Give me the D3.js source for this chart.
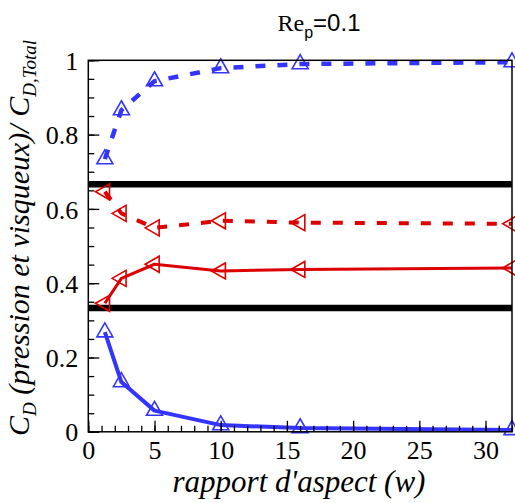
<!DOCTYPE html>
<html><head><meta charset="utf-8">
<script src="https://cdn.jsdelivr.net/npm/d3@7"></script>
<style>
#c text, #c tspan { font-family: "Liberation Serif", "Times New Roman", serif !important; }
#c .ttl { font-family: "Liberation Sans", Arial, sans-serif !important; }
#c .ttl .rs { font-family: "Liberation Serif", "Times New Roman", serif !important; }
#c .tk { font-size: 26px !important; }
</style>
</head><body style="margin:0;background:#fff">
<svg id="c" width="515" height="503" style="display:block"></svg>
<script>
const w = [1.25, 2.5, 5, 10, 16, 32];
const blueDashed = [0.734, 0.866, 0.944, 0.979, 0.990, 0.995];
const blueSolid  = [0.268, 0.134, 0.057, 0.018, 0.010, 0.005];
const redDashed  = [0.646, 0.588, 0.549, 0.568, 0.563, 0.560];
const redSolid   = [0.346, 0.413, 0.451, 0.433, 0.437, 0.441];
const refLines = [1/3, 2/3];
const xTicks = [0, 5, 10, 15, 20, 25, 30];
const yTicks = [0, 0.2, 0.4, 0.6, 0.8, 1];

const svg = d3.select("#c");
const L = 88.3, R = 512, T = 60.3, B = 431.8;
const x = d3.scaleLinear().domain([0, 32]).range([L, R]);
const y = d3.scaleLinear().domain([0, 1]).range([B, T]);
const blue = "#3434ff", red = "#dc0000";
const SERIF = "'Liberation Serif', 'Times New Roman', serif";
const SANS = "'Liberation Sans', Arial, sans-serif";

svg.append("clipPath").attr("id","pc").append("rect")
  .attr("x", L).attr("y", T).attr("width", R-L).attr("height", B-T);
const g = svg.append("g").attr("clip-path","url(#pc)");

refLines.forEach(v => g.append("line").attr("x1", L).attr("x2", R)
  .attr("y1", y(v)).attr("y2", y(v)).attr("stroke","#000").attr("stroke-width",6.5));

const line = d3.line().x((d,i)=>x(w[i])).y(d=>y(d));
function series(vals, color, width, dash){
  g.append("path").datum(vals).attr("d", line).attr("fill","none")
   .attr("stroke", color).attr("stroke-width", width)
   .attr("stroke-dasharray", dash || null).attr("stroke-linejoin","round");
}
series(blueDashed, blue, 4.5, "10,12");
series(blueSolid, blue, 4, null);
series(redDashed, red, 4, "10,12");
series(redSolid, red, 3, null);

const mg = svg.append("g");
function upTri(vals, color){
  const h = 14, hw = 8;
  vals.forEach((v,i)=>{
    const cx = x(w[i]), cy = y(v);
    mg.append("path").attr("d", `M${cx},${cy-2*h/3}L${cx+hw},${cy+h/3}L${cx-hw},${cy+h/3}Z`)
      .attr("fill","none").attr("stroke",color).attr("stroke-width",1.6);
  });
}
function leftTri(vals, color){
  const h = 14, hw = 8;
  vals.forEach((v,i)=>{
    const cx = x(w[i]), cy = y(v);
    mg.append("path").attr("d", `M${cx-2*h/3},${cy}L${cx+h/3},${cy-hw}L${cx+h/3},${cy+hw}Z`)
      .attr("fill","none").attr("stroke",color).attr("stroke-width",1.6);
  });
}
upTri(blueDashed, blue);
upTri(blueSolid, blue);
leftTri(redDashed, red);
leftTri(redSolid, red);

svg.append("rect").attr("x", L).attr("y", T).attr("width", R-L).attr("height", B-T)
  .attr("fill","none").attr("stroke","#000").attr("stroke-width",1.5);

const xAxis = d3.axisBottom(x).tickValues(xTicks).tickSize(-11).tickFormat(d3.format("d"));
const xMinor = d3.axisBottom(x).tickValues(d3.range(0, 33, 1)).tickSize(-6).tickFormat("");
const yAxis = d3.axisLeft(y).tickValues(yTicks).tickSize(-11).tickFormat(d=>d===0?"0":d===1?"1":d3.format(".1f")(d));
const yMinor = d3.axisLeft(y).tickValues(d3.range(0, 1.0001, 0.05)).tickSize(-6).tickFormat("");

function style(sel){
  sel.attr("font-family", SERIF).attr("font-size", 26);
  sel.select(".domain").remove();
  sel.selectAll("line").attr("stroke","#000").attr("stroke-width",1.3);
  sel.selectAll("text").attr("class","tk")
    .style("font-family", SERIF, "important").style("font-size","26px","important").attr("fill","#000");
}
svg.append("g").attr("transform",`translate(0,${B})`).call(xMinor).call(style);
svg.append("g").attr("transform",`translate(0,${B})`).call(xAxis).call(style)
  .selectAll("text").attr("dy", 0).attr("y", 27);
svg.append("g").attr("transform",`translate(${L},0)`).call(yMinor).call(style);
svg.append("g").attr("transform",`translate(${L},0)`).call(yAxis).call(style)
  .selectAll("text").attr("x", -10).attr("dy","0.35em");

const t = svg.append("text").attr("class","ttl").attr("x", 319).attr("y", 31).attr("text-anchor","middle")
  .style("font-family", SANS, "important").style("font-size","24px","important").attr("fill","#000");
t.append("tspan").attr("class","rs").style("font-family", SERIF, "important").text("Re");
t.append("tspan").style("font-family", SANS, "important").style("font-size","16px","important").attr("dy", 7).text("p");
t.append("tspan").style("font-family", SANS, "important").attr("dy", -7).text("=0.1");

svg.append("text").attr("x", 299).attr("y", 492).attr("text-anchor","middle")
  .style("font-family", SERIF, "important").style("font-style","italic","important")
  .style("font-size","31px","important")
  .attr("fill","#000").text("rapport d'aspect (w)");

const yl = svg.append("text").attr("transform","translate(29,238) rotate(-90)")
  .attr("text-anchor","middle").style("font-family", SERIF, "important")
  .style("font-style","italic","important").style("font-size","30px","important").attr("fill","#000");
yl.append("tspan").text("C");
yl.append("tspan").style("font-size","19px","important").attr("dy", 7).text("D");
yl.append("tspan").attr("dy", -7).text(" (pression et visqueux)/ C");
yl.append("tspan").style("font-size","19px","important").attr("dy", 7).text("D,Total");
</script>
</body></html>
